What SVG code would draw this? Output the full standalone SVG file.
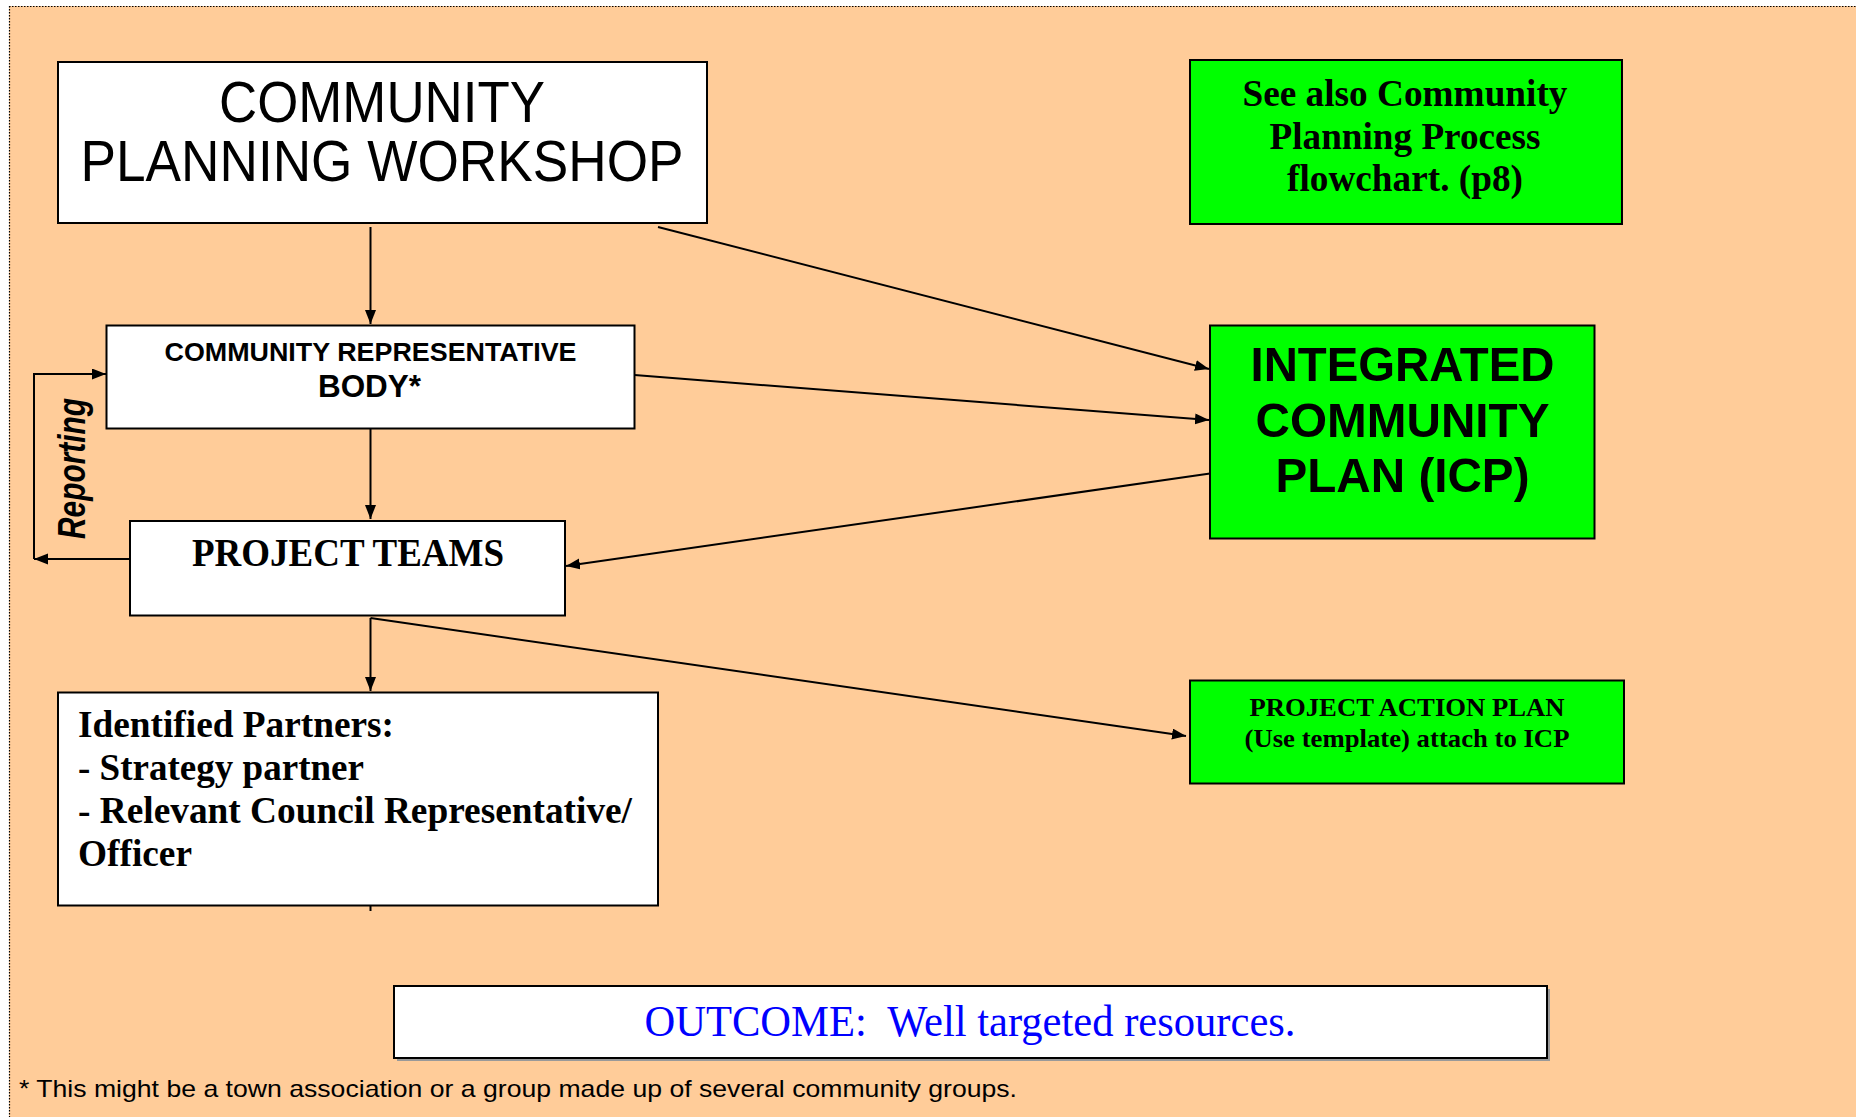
<svg xmlns="http://www.w3.org/2000/svg" width="1856" height="1117" viewBox="0 0 1856 1117">
<style>
.box{fill:#ffffff;stroke:#000000;stroke-width:2}
.gbox{fill:#00ff00;stroke:#000000;stroke-width:2}
.sans{font-family:"Liberation Sans",Arial,sans-serif;fill:#000}
.serif{font-family:"Liberation Serif","Times New Roman",serif;fill:#000}
.b{font-weight:bold}
.c{text-anchor:middle}
.conn line,.conn polyline{stroke:#000;stroke-width:2;fill:none}
</style>
<defs>
<marker id="ah" markerUnits="userSpaceOnUse" markerWidth="15" markerHeight="12" refX="14" refY="5.5" orient="auto">
<path d="M0,0 L14,5.5 L0,11 z" fill="#000"/>
</marker>
</defs>
<rect x="0" y="0" width="1856" height="1117" fill="#ffffff"/>
<rect x="9" y="6" width="1847" height="1111" fill="#ffcc99"/>
<line x1="9" y1="6.5" x2="1856" y2="6.5" stroke="#000" stroke-width="1.2" stroke-dasharray="1.5,1.5"/>
<line x1="9.5" y1="6" x2="9.5" y2="1117" stroke="#000" stroke-width="1.2" stroke-dasharray="1.5,1.5"/>

<g id="connectors" class="conn">
<line x1="370.5" y1="227" x2="370.5" y2="324" marker-end="url(#ah)"/>
<line x1="658" y1="227" x2="1209" y2="369" marker-end="url(#ah)"/>
<line x1="634.5" y1="375" x2="1209" y2="420" marker-end="url(#ah)"/>
<line x1="1210" y1="473.5" x2="566" y2="566" marker-end="url(#ah)"/>
<line x1="370.5" y1="428.5" x2="370.5" y2="519" marker-end="url(#ah)"/>
<line x1="370.5" y1="618" x2="370.5" y2="691" marker-end="url(#ah)"/>
<line x1="370.5" y1="618" x2="1186" y2="736" marker-end="url(#ah)"/>
<line x1="130" y1="559" x2="34" y2="559" marker-end="url(#ah)"/>
<polyline points="34,559 34,374 106,374" marker-end="url(#ah)"/>
<line x1="370.5" y1="906" x2="370.5" y2="911"/>
</g>

<g id="reporting-label">
<text class="sans b" font-style="italic" font-size="38" transform="translate(85,539) rotate(-90)" textLength="141" lengthAdjust="spacingAndGlyphs">Reporting</text>
</g>

<g id="community-planning-workshop">
<rect class="box" x="58" y="62" width="649" height="161"/>
<text class="sans c" font-size="58" x="382" y="122" textLength="326" lengthAdjust="spacingAndGlyphs">COMMUNITY</text>
<text class="sans c" font-size="58" x="382" y="181" textLength="603" lengthAdjust="spacingAndGlyphs">PLANNING WORKSHOP</text>
</g>

<g id="community-representative-body">
<rect class="box" x="106.5" y="325.5" width="528" height="103"/>
<text class="sans b c" font-size="26" x="370.5" y="361" textLength="412" lengthAdjust="spacingAndGlyphs">COMMUNITY REPRESENTATIVE</text>
<text class="sans b c" font-size="31" x="369.5" y="396.5" textLength="103" lengthAdjust="spacingAndGlyphs">BODY*</text>
</g>

<g id="project-teams">
<rect class="box" x="130" y="521" width="435" height="94.5"/>
<text class="serif b c" font-size="39" x="348" y="566" textLength="312" lengthAdjust="spacingAndGlyphs">PROJECT TEAMS</text>
</g>

<g id="identified-partners">
<rect class="box" x="58" y="692.5" width="600" height="213"/>
<text class="serif b" font-size="38" x="78" y="737" textLength="316" lengthAdjust="spacingAndGlyphs">Identified Partners:</text>
<text class="serif b" font-size="38" x="78" y="780" textLength="286" lengthAdjust="spacingAndGlyphs">- Strategy partner</text>
<text class="serif b" font-size="38" x="78" y="823" textLength="554" lengthAdjust="spacingAndGlyphs">- Relevant Council Representative/</text>
<text class="serif b" font-size="38" x="78" y="866" textLength="114" lengthAdjust="spacingAndGlyphs">Officer</text>
</g>

<g id="see-also">
<rect class="gbox" x="1190" y="60" width="432" height="164"/>
<text class="serif b c" font-size="37" x="1405" y="106" textLength="325" lengthAdjust="spacingAndGlyphs">See also Community</text>
<text class="serif b c" font-size="37" x="1405" y="149" textLength="271" lengthAdjust="spacingAndGlyphs">Planning Process</text>
<text class="serif b c" font-size="37" x="1405" y="191" textLength="236" lengthAdjust="spacingAndGlyphs">flowchart. (p8)</text>
</g>

<g id="integrated-community-plan">
<rect class="gbox" x="1210" y="325.5" width="384.5" height="213"/>
<text class="sans b c" font-size="49" x="1402.5" y="381" textLength="304" lengthAdjust="spacingAndGlyphs">INTEGRATED</text>
<text class="sans b c" font-size="49" x="1402.5" y="437" textLength="294" lengthAdjust="spacingAndGlyphs">COMMUNITY</text>
<text class="sans b c" font-size="49" x="1402.5" y="492" textLength="254" lengthAdjust="spacingAndGlyphs">PLAN (ICP)</text>
</g>

<g id="project-action-plan">
<rect class="gbox" x="1190" y="680.5" width="434" height="103"/>
<text class="serif b c" font-size="26" x="1407" y="716" textLength="315" lengthAdjust="spacingAndGlyphs">PROJECT ACTION PLAN</text>
<text class="serif b c" font-size="26" x="1407" y="747" textLength="325" lengthAdjust="spacingAndGlyphs">(Use template) attach to ICP</text>
</g>

<g id="outcome">
<rect x="397" y="989" width="1153" height="72" fill="#999"/>
<rect class="box" x="394" y="986" width="1153" height="72"/>
<text class="serif c" font-size="44" x="970" y="1036" fill="#0000ff" style="fill:#0000ff" xml:space="preserve" textLength="651" lengthAdjust="spacingAndGlyphs">OUTCOME:  Well targeted resources.</text>
</g>

<g id="footnote">
<text class="sans" font-size="24" x="19" y="1097" textLength="998" lengthAdjust="spacingAndGlyphs">* This might be a town association or a group made up of several community groups.</text>
</g>
</svg>
